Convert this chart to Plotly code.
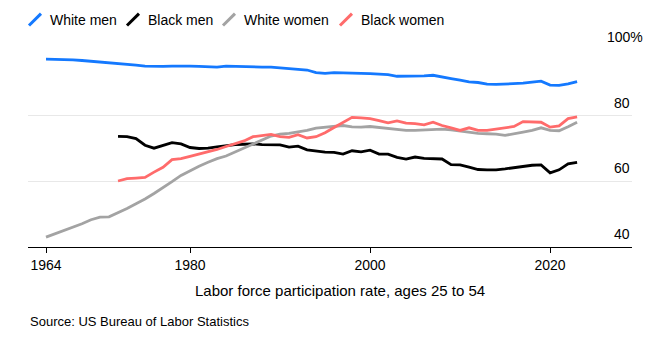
import plotly.graph_objects as go

# Prime-age (25-54) labor force participation rate, percent
years_white = list(range(1964, 2024))
years_black = list(range(1972, 2024))

white_men = [
    97.2, 97.2, 97.1, 97.0, 96.8, 96.6, 96.3, 96.0, 95.8, 95.6,
    95.4, 95.1, 95.0, 95.0, 95.1, 95.2, 95.1, 95.0, 94.9, 94.8,
    95.1, 95.0, 94.8, 94.8, 94.8, 94.8, 94.6, 94.3, 94.1, 93.9,
    93.1, 92.9, 93.1, 93.1, 93.0, 92.9, 92.8, 92.6, 92.5, 92.0,
    92.0, 92.0, 92.1, 92.3, 91.9, 91.3, 90.8, 90.3, 90.1, 89.6,
    89.5, 89.6, 89.8, 89.9, 90.2, 90.5, 89.3, 89.2, 89.7, 90.4,
]
white_women = [
    43.0, 44.0, 45.0, 46.1, 47.1, 48.3, 49.1, 49.2, 50.4, 51.7,
    53.2, 54.6, 56.3, 58.0, 59.9, 61.8, 63.3, 64.6, 65.8, 66.9,
    67.7, 68.9, 70.2, 71.4, 72.6, 73.8, 74.4, 74.6, 75.1, 75.5,
    76.2, 76.5, 76.8, 77.0, 76.6, 76.5, 76.7, 76.4, 76.0, 75.7,
    75.5, 75.5, 75.6, 75.6, 75.9, 75.7, 75.3, 75.0, 74.6, 74.5,
    74.4, 74.0, 74.4, 75.0, 75.5, 76.3, 75.5, 75.4, 76.6, 78.0,
]
black_men = [
    73.7, 73.6, 73.0, 71.0, 70.1, 70.9, 71.8, 71.4, 70.3, 70.0,
    70.1, 70.5, 70.9, 71.2, 71.3, 71.4, 71.2, 71.1, 71.1, 70.4,
    70.7, 69.6, 69.2, 68.9, 68.8, 68.3, 69.3, 69.0, 69.5, 68.3,
    68.3, 67.3, 66.8, 67.4, 67.0, 66.8, 66.8, 65.1, 65.0, 64.3,
    63.6, 63.5, 63.5, 63.8, 64.2, 64.6, 64.9, 65.0, 62.6, 63.5,
    65.3, 65.8,
]
black_women = [
    60.1, 60.8, 61.0, 61.2, 62.8, 64.3, 66.6, 66.9, 67.6, 68.3,
    68.9, 69.7, 70.6, 71.4, 72.3, 73.6, 74.0, 74.3, 73.6, 73.4,
    74.2, 73.2, 73.6, 74.8, 76.4, 78.0, 79.5, 79.3, 79.1, 78.5,
    77.8, 78.4, 77.7, 77.6, 77.2, 78.0, 77.0, 76.3, 75.5, 76.3,
    75.5, 75.5, 75.9, 76.5, 76.7, 78.2, 78.0, 78.0, 76.5, 76.9,
    79.1, 79.6,
]

series_names = ["White men", "Black men", "White women", "Black women"]
series_colors = ["#1479ff", "#000000", "#a3a3a3", "#ff6b6b"]
series_years = [years_white, years_black, years_white, years_black]
series_values = [white_men, black_men, white_women, black_women]

x_ticks = [1964, 1980, 2000, 2020]
y_ticks = [40, 60, 80, 100]

x_title = "Labor force participation rate, ages 25 to 54"
source_text = "Source: US Bureau of Labor Statistics"

FONT = "Arial, 'Liberation Sans', Helvetica, sans-serif"
W, H = 671, 346
L, R, T, B = 28, 632, 49.5, 247


def px(x):
    return (x - L) / (R - L)


def py(y):
    return (B - y) / (B - T)


fig = go.Figure()
for name, color, xs, ys in zip(series_names, series_colors, series_years, series_values):
    fig.add_trace(go.Scatter(
        x=xs, y=ys, name=name, mode="lines",
        line=dict(color=color, width=2.8),
        showlegend=False, hoverinfo="skip",
    ))

annotations = []
shapes = []

# Legend row: slanted swatch + label
legend_icon_x = [29, 127, 223, 340]
for name, color, x0 in zip(series_names, series_colors, legend_icon_x):
    shapes.append(dict(
        type="line", xref="paper", yref="paper",
        x0=px(x0), y0=py(25), x1=px(x0 + 12), y1=py(13),
        line=dict(color=color, width=3),
    ))
    annotations.append(dict(
        text=name, xref="paper", yref="paper",
        x=px(x0 + 19), y=py(19), xanchor="left", yanchor="middle",
        showarrow=False, font=dict(family=FONT, size=14, color="#000"),
    ))

# Right-hand value labels sitting above their gridlines;
# the top one carries a "%" that hangs past the plot edge
for v in y_ticks:
    top = v == y_ticks[-1]
    annotations.append(dict(
        text=f"{v}%" if top else str(v), xref="paper", yref="y", x=1, y=v,
        xanchor="right", yanchor="bottom", yshift=3, xshift=12.5 if top else 0,
        showarrow=False, font=dict(family=FONT, size=14, color="#000"),
    ))

annotations.append(dict(
    text=x_title, xref="paper", yref="paper", x=px(340), y=py(290.5),
    xanchor="center", yanchor="middle", showarrow=False,
    font=dict(family=FONT, size=15, color="#000"),
))
annotations.append(dict(
    text=source_text, xref="paper", yref="paper", x=px(28), y=py(321.5),
    xanchor="left", yanchor="middle", showarrow=False,
    font=dict(family=FONT, size=13, color="#000"),
))

fig.update_layout(
    width=W, height=H,
    margin=dict(l=L, r=W - R, t=T, b=H - B),
    paper_bgcolor="white", plot_bgcolor="white",
    showlegend=False,
    annotations=annotations, shapes=shapes,
    xaxis=dict(
        range=[1962, 2029.1], tickmode="array", tickvals=x_ticks,
        ticks="outside", ticklen=5, tickwidth=1, tickcolor="#000",
        showline=True, linecolor="#000", linewidth=1.2,
        showgrid=False, zeroline=False,
        tickfont=dict(family=FONT, size=14, color="#000"),
        fixedrange=True,
    ),
    yaxis=dict(
        range=[40, 100], tickmode="array", tickvals=y_ticks,
        showticklabels=False, ticks="",
        showgrid=True, gridcolor="#e8e8e8", gridwidth=1,
        zeroline=False, showline=False, fixedrange=True,
    ),
)

fig.write_html("out.html", config={"displayModeBar": False})
